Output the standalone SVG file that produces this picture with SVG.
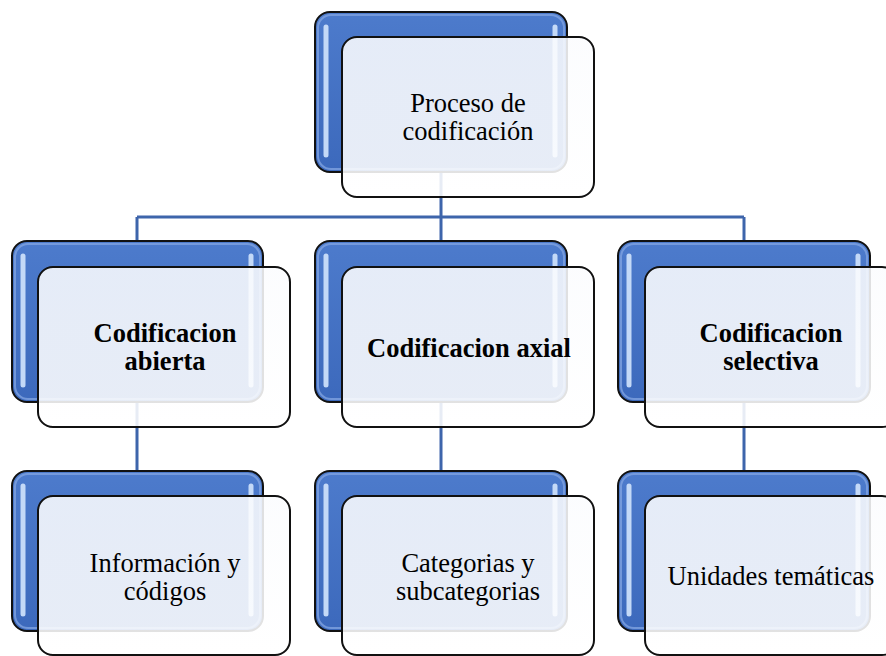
<svg xmlns="http://www.w3.org/2000/svg" width="886" height="656" viewBox="0 0 886 656">
<defs>
<linearGradient id="blue" x1="0" y1="0" x2="0" y2="1">
<stop offset="0" stop-color="#4d7bcc"/>
<stop offset="1" stop-color="#3c69bc"/>
</linearGradient>
<linearGradient id="front" x1="0" y1="0" x2="0" y2="1">
<stop offset="0" stop-color="#fbfcfe"/>
<stop offset="1" stop-color="#ffffff"/>
</linearGradient>
</defs>
<style>
.back{fill:url(#blue);stroke:#111;stroke-width:2}
.ring{fill:none;stroke:#7fa3e0;stroke-width:2;opacity:0.8}
.hl{stroke:#c4d9f7;stroke-width:5;stroke-linecap:round}
.front{fill:url(#front);fill-opacity:0.88;stroke:#111;stroke-width:2}
.t{font-family:"Liberation Serif","Times New Roman",serif;font-size:26.5px;fill:#000;text-anchor:middle}
.b{font-weight:bold}
.conn{stroke:#3e65ab;stroke-width:3;fill:none}
</style>
<g id="connectors">
<path class="conn" d="M441 172 V217 M137 217 H744 M137 217 V241 M441 217 V241 M744 217 V241"/>
<path class="conn" d="M137 402 V471 M441 402 V471 M744 402 V471"/>
</g>
<g id="n-proceso">
<rect class="back" x="315" y="12" width="252" height="160" rx="15"/>
<rect class="ring" x="318" y="15" width="246" height="154" rx="13"/>
<line class="hl" x1="326" y1="27" x2="326" y2="155"/>
<line class="hl" x1="555" y1="27" x2="555" y2="155"/>
<rect class="front" x="342" y="37" width="252" height="160" rx="15"/>
<text class="t" x="468" y="112">Proceso de</text>
<text class="t" x="468" y="140">codificación</text>
</g>
<g id="n-abierta">
<rect class="back" x="12" y="241" width="251" height="161" rx="15"/>
<rect class="ring" x="15" y="244" width="245" height="155" rx="13"/>
<line class="hl" x1="23" y1="256" x2="23" y2="385"/>
<line class="hl" x1="251" y1="256" x2="251" y2="385"/>
<rect class="front" x="38" y="267" width="252" height="160" rx="15"/>
<text class="t b" x="165" y="342">Codificacion</text>
<text class="t b" x="165" y="370">abierta</text>
</g>
<g id="n-axial">
<rect class="back" x="315" y="241" width="252" height="161" rx="15"/>
<rect class="ring" x="318" y="244" width="246" height="155" rx="13"/>
<line class="hl" x1="326" y1="256" x2="326" y2="385"/>
<line class="hl" x1="555" y1="256" x2="555" y2="385"/>
<rect class="front" x="342" y="267" width="252" height="160" rx="15"/>
<text class="t b" x="469" y="357">Codificacion axial</text>
</g>
<g id="n-selectiva">
<rect class="back" x="618" y="241" width="252" height="161" rx="15"/>
<rect class="ring" x="621" y="244" width="246" height="155" rx="13"/>
<line class="hl" x1="629" y1="256" x2="629" y2="385"/>
<line class="hl" x1="858" y1="256" x2="858" y2="385"/>
<rect class="front" x="645" y="267" width="252" height="160" rx="15"/>
<text class="t b" x="771" y="342">Codificacion</text>
<text class="t b" x="771" y="370">selectiva</text>
</g>
<g id="n-informacion">
<rect class="back" x="12" y="471" width="251" height="160" rx="15"/>
<rect class="ring" x="15" y="474" width="245" height="154" rx="13"/>
<line class="hl" x1="23" y1="486" x2="23" y2="614"/>
<line class="hl" x1="251" y1="486" x2="251" y2="614"/>
<rect class="front" x="38" y="496" width="252" height="159" rx="15"/>
<text class="t" x="165" y="572">Información y</text>
<text class="t" x="165" y="600">códigos</text>
</g>
<g id="n-categorias">
<rect class="back" x="315" y="471" width="252" height="160" rx="15"/>
<rect class="ring" x="318" y="474" width="246" height="154" rx="13"/>
<line class="hl" x1="326" y1="486" x2="326" y2="614"/>
<line class="hl" x1="555" y1="486" x2="555" y2="614"/>
<rect class="front" x="342" y="496" width="252" height="159" rx="15"/>
<text class="t" x="468" y="572">Categorias y</text>
<text class="t" x="468" y="600">subcategorias</text>
</g>
<g id="n-unidades">
<rect class="back" x="618" y="471" width="252" height="160" rx="15"/>
<rect class="ring" x="621" y="474" width="246" height="154" rx="13"/>
<line class="hl" x1="629" y1="486" x2="629" y2="614"/>
<line class="hl" x1="858" y1="486" x2="858" y2="614"/>
<rect class="front" x="645" y="496" width="252" height="159" rx="15"/>
<text class="t" x="771" y="585">Unidades temáticas</text>
</g>
</svg>
